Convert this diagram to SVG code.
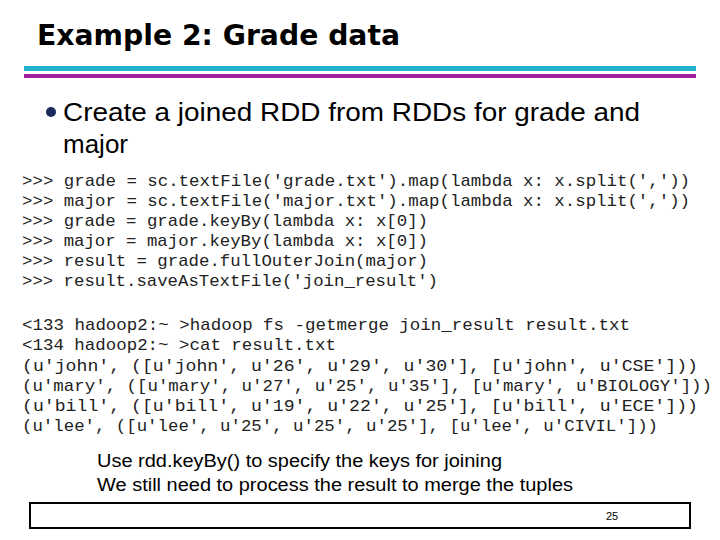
<svg xmlns="http://www.w3.org/2000/svg" width="720" height="540" viewBox="0 0 720 540">
<style>
.code{font-family:'Liberation Mono','Courier New',monospace;font-size:17px;fill:#222}
.foot{font-family:'Liberation Sans',Arial,sans-serif;font-size:18px;fill:#000}
.body{font-family:'Liberation Sans',Arial,sans-serif;font-size:26px;fill:#000}
</style>
<rect width="720" height="540" fill="#fff"/>
<g id="title"><text x="37" y="45" font-family="DejaVu Sans" font-weight="bold" font-size="28" textLength="363" lengthAdjust="spacingAndGlyphs">Example 2: Grade data</text></g>
<g id="rules">
<rect x="24" y="66" width="672" height="5" fill="#22b4cc"/>
<rect x="24" y="74" width="672" height="4" fill="#a020a0"/>
</g>
<g id="bullet" class="body">
<circle cx="51" cy="112" r="5" fill="#1a2a5a"/>
<text x="63" y="121" textLength="577" lengthAdjust="spacingAndGlyphs">Create a joined RDD from RDDs for grade and</text>
<text x="63" y="153">major</text>
</g>
<g id="code" class="code">
<text x="22" y="186" textLength="668" lengthAdjust="spacingAndGlyphs">&gt;&gt;&gt; grade = sc.textFile('grade.txt').map(lambda x: x.split(','))</text>
<text x="22" y="206" textLength="668" lengthAdjust="spacingAndGlyphs">&gt;&gt;&gt; major = sc.textFile('major.txt').map(lambda x: x.split(','))</text>
<text x="22" y="226" textLength="406" lengthAdjust="spacingAndGlyphs">&gt;&gt;&gt; grade = grade.keyBy(lambda x: x[0])</text>
<text x="22" y="246" textLength="406" lengthAdjust="spacingAndGlyphs">&gt;&gt;&gt; major = major.keyBy(lambda x: x[0])</text>
<text x="22" y="266" textLength="406" lengthAdjust="spacingAndGlyphs">&gt;&gt;&gt; result = grade.fullOuterJoin(major)</text>
<text x="22" y="286" textLength="416" lengthAdjust="spacingAndGlyphs">&gt;&gt;&gt; result.saveAsTextFile('join_result')</text>
</g>
<g id="output" class="code">
<text x="22" y="330" textLength="608" lengthAdjust="spacingAndGlyphs">&lt;133 hadoop2:~ &gt;hadoop fs -getmerge join_result result.txt</text>
<text x="22" y="350" textLength="314" lengthAdjust="spacingAndGlyphs">&lt;134 hadoop2:~ &gt;cat result.txt</text>
<text x="22" y="371" textLength="676" lengthAdjust="spacingAndGlyphs">(u'john', ([u'john', u'26', u'29', u'30'], [u'john', u'CSE']))</text>
<text x="22" y="391" textLength="690" lengthAdjust="spacingAndGlyphs">(u'mary', ([u'mary', u'27', u'25', u'35'], [u'mary', u'BIOLOGY']))</text>
<text x="22" y="411" textLength="676" lengthAdjust="spacingAndGlyphs">(u'bill', ([u'bill', u'19', u'22', u'25'], [u'bill', u'ECE']))</text>
<text x="22" y="431" textLength="636" lengthAdjust="spacingAndGlyphs">(u'lee', ([u'lee', u'25', u'25', u'25'], [u'lee', u'CIVIL']))</text>
</g>
<g id="notes" class="foot">
<text x="97" y="467" textLength="405" lengthAdjust="spacingAndGlyphs">Use rdd.keyBy() to specify the keys for joining</text>
<text x="97" y="491" textLength="476" lengthAdjust="spacingAndGlyphs">We still need to process the result to merge the tuples</text>
</g>
<g id="footer">
<rect x="30" y="503" width="660" height="25" fill="none" stroke="#000" stroke-width="2"/>
<text x="606" y="520" font-family="'Liberation Sans',Arial,sans-serif" font-size="11">25</text>
</g>
</svg>
